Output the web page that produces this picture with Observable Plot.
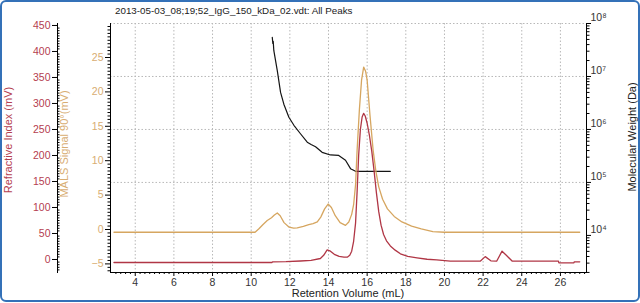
<!DOCTYPE html>
<html><head><meta charset="utf-8">
<script src="https://cdn.jsdelivr.net/npm/d3@7"></script>
<script src="https://cdn.jsdelivr.net/npm/@observablehq/plot@0.6"></script>
<style>
body{margin:0;background:#fff}
#wrap{position:relative;width:640px;height:303px;overflow:hidden;font-family:"Liberation Sans",Arial,sans-serif;background:#fff}
#border{position:absolute;left:0;top:0;width:640px;height:302px;box-sizing:border-box;border:2px solid #3471b8;border-radius:6px}
.layer{position:absolute;left:0;top:0}
.t{position:absolute;white-space:nowrap;font-size:11px;line-height:1}
.rot{transform:translate(-50%,-50%) rotate(-90deg)}
.ctr{transform:translate(-50%,-50%)}
</style></head>
<body><div id="wrap"><div id="border"></div></div>
<script>
// ---- data ----
const riVolume = [2.9,11.08,11.1,11.8,12.55,13.1,13.58,13.75,13.93,14.1,14.3,14.55,14.8,14.97,15.1,15.2,15.3,15.4,15.48,15.56,15.65,15.74,15.82,15.9,16.0,16.12,16.24,16.36,16.48,16.6,16.72,16.85,17.0,17.2,17.45,17.72,18.1,18.58,19.1,19.6,20.3,21.85,22.11,22.4,22.7,22.98,23.2,23.5,25.9,25.92,26.7,26.72,27.0];
const riSignal = [-5.8,-5.8,-4.5,-4.2,-2.9,-1.5,1.9,8,18.6,16,10,6,4.5,4.4,8,16,35,70,130,200,250,274,281,276,262,238,208,170,128,92,66,48,36,26,18,11,6,3.3,0.5,-0.6,-3.3,-3.3,5.5,-2.5,-3.3,16,8,-3,-3.3,-6.3,-6.3,-4.5,-4.5];

const malsVolume = [2.9,10.2,10.4,10.6,10.83,11.05,11.2,11.35,11.5,11.7,11.95,12.2,12.38,12.7,12.98,13.2,13.42,13.6,13.8,13.98,14.15,14.35,14.6,14.88,15.05,15.2,15.3,15.4,15.48,15.6,15.71,15.82,15.92,16.0,16.15,16.31,16.45,16.6,16.8,17.05,17.4,17.8,18.3,18.8,19.4,20.0,27.0];
const malsSignal = [-0.4,-0.4,0.1,0.7,1.3,1.7,2.1,2.4,2.0,1.0,0.35,0.2,0.25,0.45,0.7,0.85,1.1,1.8,3.0,3.7,3.2,2.0,1.0,0.6,1.1,2.2,3.6,6.5,11.5,17.5,21.7,23.6,23.0,21.7,16.5,11.5,8.5,6.2,4.4,3.0,1.9,1.1,0.5,0.1,-0.3,-0.4,-0.4];

const mwVolume = [11.09,11.12,11.14,11.17,11.35,11.52,11.69,11.95,12.21,12.55,12.9,13.1,13.33,13.67,14.1,14.53,14.88,15.14,15.4,16.0,17.2];
const mwDalton = [5.5e7,4.2e7,4.6e7,3.1e7,1.29e7,5.0e6,3.0e6,1.7e6,1.2e6,8.3e5,5.75e5,5.2e5,4.7e5,3.7e5,3.3e5,3.24e5,2.63e5,1.82e5,1.62e5,1.62e5,1.62e5];

const xTicks = [4,6,8,10,12,14,16,18,20,22,24,26];
const riTicks = [0,50,100,150,200,250,300,350,400,450];
const malsTicks = [-5,0,5,10,15,20,25];
const mwTicks = [1e4,1e5,1e6,1e7,1e8];
const mwGrid = [1e5,1e6,1e7,1e8];

const titleText = "2013-05-03_08;19;52_IgG_150_kDa_02.vdt: All Peaks";
const xTitle = "Retention Volume (mL)";
const riTitle = "Refractive Index (mV)";
const malsTitle = "MALS Signal 90°(mV)";
const mwTitle = "Molecular Weight (Da)";

// ---- build ----
const riData = riVolume.map((v,i)=>({v, s:riSignal[i]}));
const malsData = malsVolume.map((v,i)=>({v, s:malsSignal[i]}));
const mwData = mwVolume.map((v,i)=>({v, m:mwDalton[i]}));

const RED="#b03645", GOLD="#d6a660", REDTXT="#b5404f", GOLDTXT="#d8ad72";
const xMinor = d3.range(3, 27.3, 0.25).filter(v=>!xTicks.includes(v));
const riMinor = d3.range(-20, 455, 5).filter(v=>v%50!==0);
const malsMinor = d3.range(-6, 30, 0.5).filter(v=>v%5!==0);
const mwMinor = [];
for (let e=3;e<8;e++) for (let k=2;k<10;k++){const v=k*10**e; if(v>=10**3.3) mwMinor.push(v);}
const supDigits = "⁰¹²³⁴⁵⁶⁷⁸⁹";
const sup = d => "10" + supDigits[Math.round(Math.log10(d))];

const common = {
  width:640, height:303, marginLeft:110, marginRight:54, marginTop:23, marginBottom:31,
  style:{background:"none", fontFamily:"'Liberation Sans',Arial,sans-serif", fontSize:"10.5px", overflow:"visible"},
  x:{domain:[2.72,27.35]}
};
const GRID = {stroke:"#b8b8b8", strokeOpacity:1, strokeDasharray:"1.5,2"};

const base = Plot.plot({
  ...common,
  y:{type:"log", domain:[10**3.3, 1e8]},
  marks:[
    Plot.gridX(xTicks, GRID),
    Plot.gridY(mwGrid, GRID),
    Plot.frame({anchor:"bottom"}),
    Plot.frame({anchor:"right"}),
    Plot.axisX(xTicks, {tickSize:4, tickPadding:2, label:null, fill:"#333", stroke:"#000"}),
    Plot.axisX(xMinor, {tickSize:2, fill:"none", label:null, stroke:"#000"}),
    Plot.axisY(mwTicks, {anchor:"right", tickSize:4, fill:"none", label:null, stroke:"#000"}),
    Plot.axisY(mwMinor, {anchor:"right", tickSize:2.5, fill:"none", label:null, stroke:"#000"}),
    Plot.axisY(mwTicks, {anchor:"right", tickSize:0, tickPadding:4, dy:-6, tickFormat:sup, label:null, fill:"#333"}),
    Plot.line(mwData, {x:"v", y:"m", stroke:"#141414", strokeWidth:1.2})
  ]
});

const mals = Plot.plot({
  ...common,
  x:{...common.x, axis:null},
  y:{domain:[-6.25, 29.94]},
  marks:[
    Plot.frame({anchor:"left"}),
    Plot.axisY(malsTicks, {anchor:"left", tickSize:5, tickPadding:2, label:null, fill:GOLDTXT, stroke:"#000"}),
    Plot.axisY(malsMinor, {anchor:"left", tickSize:2.5, fill:"none", label:null, stroke:"#000"}),
    Plot.line(malsData, {x:"v", y:"s", stroke:GOLD, strokeWidth:1.3})
  ]
});

const ri = Plot.plot({
  ...common,
  x:{...common.x, axis:null},
  y:{domain:[-25, 453.8]},
  marks:[
    Plot.frame({anchor:"left", dx:-53}),
    Plot.axisY(riTicks, {anchor:"left", tickSize:5, tickPadding:2, dx:-53, label:null, fill:REDTXT, stroke:"#000"}),
    Plot.axisY(riMinor, {anchor:"left", tickSize:2.5, dx:-50.5, fill:"none", label:null, stroke:"#000"}),
    Plot.line(riData, {x:"v", y:"s", stroke:RED, strokeWidth:1.3})
  ]
});

const wrap = document.getElementById("wrap");
for (const svg of [base, mals, ri]) { svg.classList.add("layer"); wrap.appendChild(svg); }

function addText(txt, x, y, cls, color, size){
  const d = document.createElement("div");
  d.className = "t " + cls; d.textContent = txt;
  d.style.left = x+"px"; d.style.top = y+"px"; d.style.color = color;
  if (size) d.style.fontSize = size;
  wrap.appendChild(d);
}
addText(titleText, 115, 6, "", "#222", "9.8px");
addText(xTitle, 348, 293, "ctr", "#222", "11px");
addText(riTitle, 8, 140, "rot", REDTXT, "11px");
addText(malsTitle, 64, 144, "rot", GOLDTXT, "11px");
addText(mwTitle, 632, 137, "rot", "#222", "11px");
</script>
</body></html>
